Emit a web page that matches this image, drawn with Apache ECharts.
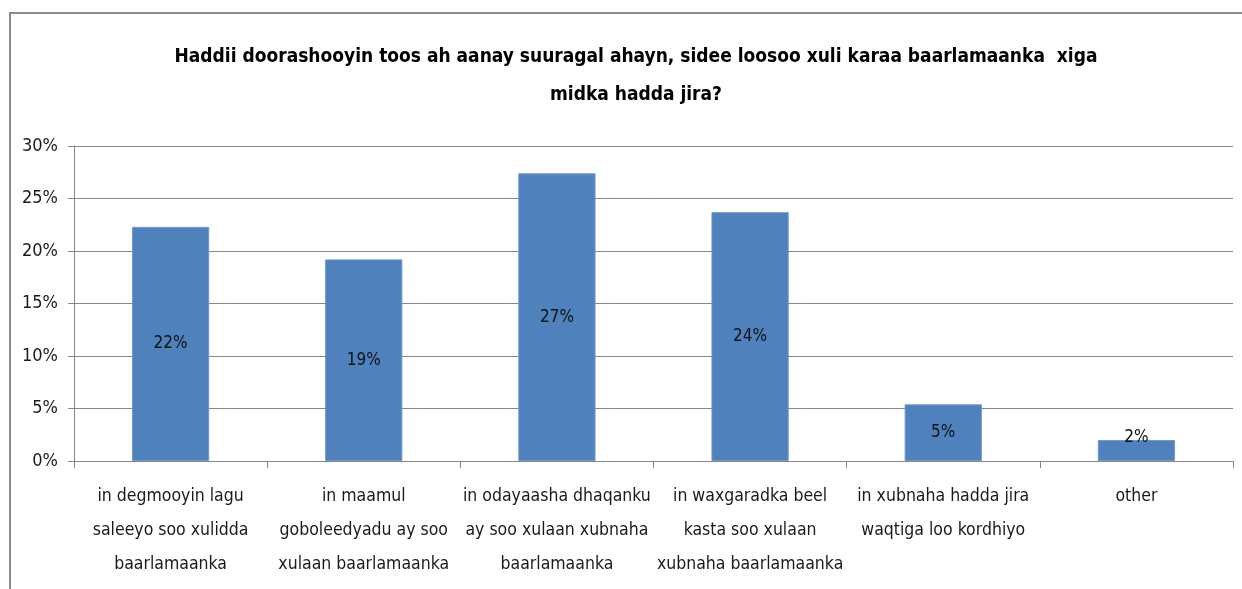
<!DOCTYPE html>
<html>
<head>
<meta charset="utf-8">
<script src="https://cdn.jsdelivr.net/npm/echarts@6/dist/echarts.min.js"></script>
<style>
  html, body { margin: 0; padding: 0; background: #ffffff; }
  #chart { width: 1242px; height: 589px; }
</style>
</head>
<body>
<div id="chart"></div>
<script>
const titleLines = [
  "Haddii doorashooyin toos ah aanay suuragal ahayn, sidee loosoo xuli karaa baarlamaanka  xiga",
  "midka hadda jira?"
];
const categories = [
  "in degmooyin lagu\nsaleeyo soo xulidda\nbaarlamaanka",
  "in maamul\ngoboleedyadu ay soo\nxulaan baarlamaanka",
  "in odayaasha dhaqanku\nay soo xulaan xubnaha\nbaarlamaanka",
  "in waxgaradka beel\nkasta soo xulaan\nxubnaha baarlamaanka",
  "in xubnaha hadda jira\nwaqtiga loo kordhiyo",
  "other"
];
const values = [22.3, 19.2, 27.4, 23.7, 5.4, 2.0];
const yTicks = [0, 5, 10, 15, 20, 25, 30];

const FONT = '"Liberation Sans Narrow", "Arial Narrow", "DejaVu Sans Condensed", "Open Sans", sans-serif';

const chart = echarts.init(document.getElementById('chart'), null, { renderer: 'canvas' });

const barData = values.map((v, i) => {
  const item = { value: v };
  if (v < 4) {
    item.label = { position: 'top', distance: -6 };
  }
  return item;
});

chart.setOption({
  animation: false,
  backgroundColor: '#ffffff',
  title: {
    text: titleLines.join('\n'),
    left: 631,
    textAlign: 'center',
    top: 33,
    textStyle: {
      fontFamily: FONT,
      fontWeight: 'bold',
      fontSize: 19,
      lineHeight: 38,
      color: '#000000'
    }
  },
  graphic: [{
    type: 'rect',
    shape: { x: 10, y: 13, width: 1250, height: 600 },
    style: { fill: 'none', stroke: '#8c8c8c', lineWidth: 2 },
    silent: true,
    z: -10
  }],
  grid: {
    left: 74,
    right: 9,
    top: 146,
    bottom: 128,
    containLabel: false
  },
  xAxis: {
    type: 'category',
    data: categories,
    axisLine: { show: true, lineStyle: { color: '#868686', width: 1 } },
    axisTick: { show: true, alignWithLabel: false, length: 7, lineStyle: { color: '#868686' } },
    axisLabel: {
      interval: 0,
      margin: 18,
      fontFamily: FONT,
      fontSize: 17.5,
      lineHeight: 34,
      color: '#1a1a1a',
      align: 'center'
    },
    splitLine: { show: false }
  },
  yAxis: {
    type: 'value',
    min: yTicks[0],
    max: yTicks[yTicks.length - 1],
    interval: 5,
    axisLine: { show: true, lineStyle: { color: '#868686', width: 1 } },
    axisTick: { show: true, length: 6, lineStyle: { color: '#868686' } },
    axisLabel: {
      formatter: v => v + '%',
      margin: 16,
      fontFamily: FONT,
      fontSize: 18,
      color: '#1a1a1a'
    },
    splitLine: { show: true, lineStyle: { color: '#868686', width: 1 } }
  },
  series: [{
    type: 'bar',
    data: barData,
    barWidth: '40%',
    itemStyle: { color: '#4F81BD', borderColor: '#6f9ad0', borderWidth: 1 },
    label: {
      show: true,
      position: 'inside',
      formatter: p => Math.round(p.value) + '%',
      fontFamily: FONT,
      fontSize: 17,
      color: '#111111'
    }
  }]
});
</script>
</body>
</html>
